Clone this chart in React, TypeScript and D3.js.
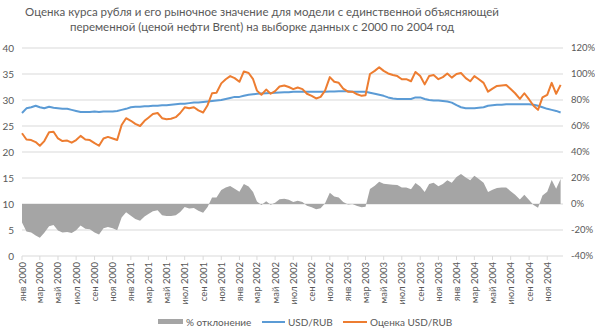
import React from 'react';
import * as d3 from 'd3';

// Semi-monthly observations (1st and 16th of each month), Jan 2000 – Dec 2004
const usdRub = [
  27.5, 28.4, 28.6, 28.9, 28.6, 28.4, 28.7, 28.5, 28.4, 28.3, 28.3, 28.1,
  27.9, 27.7, 27.7, 27.7, 27.8, 27.7, 27.8, 27.8, 27.8, 27.9, 28.1, 28.3,
  28.6, 28.7, 28.7, 28.8, 28.8, 28.9, 28.9, 29.0, 29.0, 29.1, 29.2, 29.3,
  29.3, 29.4, 29.5, 29.5, 29.6, 29.7, 29.8, 29.9, 30.0, 30.2, 30.4, 30.6,
  30.6, 30.8, 31.0, 31.1, 31.2, 31.25, 31.3, 31.35, 31.4, 31.45, 31.5, 31.5,
  31.6, 31.6, 31.6, 31.6, 31.6, 31.6, 31.6, 31.6, 31.65, 31.65, 31.7, 31.7,
  31.7, 31.6, 31.6, 31.6, 31.6, 31.4, 31.2, 31.0, 30.8, 30.5, 30.3, 30.2,
  30.2, 30.2, 30.2, 30.5, 30.5, 30.2, 30.0, 29.9, 29.9, 29.8, 29.7, 29.5,
  29.0, 28.6, 28.4, 28.4, 28.4, 28.5, 28.6, 28.9, 29.0, 29.1, 29.1, 29.2,
  29.2, 29.2, 29.2, 29.2, 29.2, 29.1, 28.9, 28.6, 28.3, 28.1, 27.9, 27.6,
];

const estimate = [
  23.6, 22.4, 22.3, 21.9, 21.2, 22.1, 23.8, 23.9, 22.6, 22.1, 22.2, 21.8,
  22.3, 23.1, 22.4, 22.3, 21.7, 21.2, 22.6, 22.9, 22.6, 22.3, 25.2, 26.5,
  26.0, 25.4, 25.0, 26.0, 26.6, 27.3, 27.5, 26.5, 26.3, 26.4, 26.7, 27.5,
  28.6, 28.4, 28.6, 28.0, 27.6, 29.0, 31.3, 31.4, 33.2, 34.0, 34.6, 34.2,
  33.5, 35.5, 35.2, 34.0, 31.8, 31.0, 32.0, 31.2, 31.7, 32.6, 32.8, 32.5,
  32.1, 32.4, 32.1, 31.2, 30.8, 30.3, 30.6, 31.8, 34.4, 33.5, 33.3, 32.2,
  31.6, 31.6, 31.1, 30.8, 30.9, 35.0, 35.6, 36.3, 35.6, 35.1, 34.8, 34.6,
  34.0, 34.0, 33.6, 35.4, 34.6, 33.0, 34.6, 34.8, 34.0, 34.4, 35.1, 34.3,
  35.0, 35.2, 34.2, 33.6, 34.6, 34.0, 33.3, 31.6, 32.2, 32.7, 32.8, 32.9,
  32.1, 31.3, 30.2, 31.3, 30.1, 28.9, 28.1, 30.5, 31.0, 33.3, 31.2, 32.9,
];

// % deviation
const deviation = [
  -14.2, -21.1, -22.0, -24.2, -25.9, -22.2, -17.1, -16.1, -20.4, -21.9, -21.6, -22.4,
  -20.1, -16.6, -19.1, -19.5, -21.9, -23.5, -18.7, -17.6, -18.7, -20.1, -10.3, -6.4,
  -9.1, -11.5, -12.9, -9.7, -7.6, -5.5, -4.8, -8.6, -9.3, -9.3, -8.6, -6.1,
  -2.4, -3.4, -3.1, -5.1, -6.8, -2.4, 5.0, 5.0, 10.7, 12.6, 13.8, 11.8,
  9.5, 15.3, 13.5, 9.3, 1.9, -0.8, 2.2, -0.5, 1.0, 3.7, 4.1, 3.2,
  1.6, 2.5, 1.6, -1.3, -2.5, -4.1, -3.2, 0.6, 8.7, 5.8, 5.0, 1.6,
  -0.3, 0.0, -1.6, -2.5, -2.2, 11.5, 14.1, 17.1, 15.6, 15.1, 14.9, 14.6,
  12.6, 12.6, 11.3, 16.1, 13.4, 9.3, 15.3, 16.4, 13.7, 15.4, 18.2, 16.3,
  20.7, 23.1, 20.4, 18.3, 21.8, 19.3, 16.4, 9.3, 11.0, 12.4, 12.7, 12.7,
  9.9, 7.2, 3.4, 7.2, 3.1, -0.7, -2.8, 6.6, 9.5, 18.5, 11.8, 19.2,
];

const monthNames = ['янв', 'мар', 'май', 'июл', 'сен', 'ноя'];
const years = [2000, 2001, 2002, 2003, 2004];
const leftTicks = [0, 5, 10, 15, 20, 25, 30, 35, 40];
const rightTicks = [-40, -20, 0, 20, 40, 60, 80, 100, 120];
const titleLines = [
  'Оценка курса рубля и его рыночное значение для модели с единственной объясняющей',
  'переменной (ценой нефти Brent) на выборке данных с 2000 по 2004 год',
];
const seriesNames = ['% отклонение', 'USD/RUB', 'Оценка USD/RUB'];

const COLORS = { area: '#a5a5a5', usd: '#5b9bd5', est: '#ed7d31', text: '#595959', grid: '#d9d9d9' };
const FONT = 'Lato, "Open Sans", sans-serif';

export default function App() {
  const W = 595, H = 329;
  const L = 22, R = 563, T = 48, B = 256;

  const dates = usdRub.map((_, i) => new Date(2000, Math.floor(i / 2), i % 2 === 0 ? 1 : 16));
  const x = d3.scaleTime().domain([new Date(2000, 0, 1), new Date(2004, 11, 24)]).range([L, R]);
  const yL = d3.scaleLinear().domain([0, 40]).range([B, T]);
  const yR = d3.scaleLinear().domain([-40, 120]).range([B, T]);

  const tickDates: { d: Date; label: string }[] = [];
  years.forEach((yr) => monthNames.forEach((mn, k) => tickDates.push({ d: new Date(yr, k * 2, 1), label: `${mn} ${yr}` })));

  const area = d3.area<number>().x((_, i) => x(dates[i])).y0(yR(0)).y1((d) => yR(d));
  const lineL = d3.line<number>().x((_, i) => x(dates[i])).y((d) => yL(d));

  return (
    <svg width={W} height={H} style={{ position: 'absolute', left: 0, top: 0, background: '#fff' }} fontFamily={FONT}>
      <rect width={W} height={H} fill="#fff" />
      {titleLines.map((t, i) => (
        <text key={i} x={262} y={16 + i * 15} textAnchor="middle" fontSize={11.5} fill={COLORS.text}>{t}</text>
      ))}
      {leftTicks.map((v) => (
        <g key={v}>
          {v !== 0 && <line x1={L} x2={R} y1={yL(v)} y2={yL(v)} stroke={COLORS.grid} strokeWidth={1} />}
          <text x={14} y={yL(v)} dy="0.35em" textAnchor="end" fontSize={10} fill={COLORS.text}>{v}</text>
        </g>
      ))}
      {rightTicks.map((v) => (
        <text key={v} x={571} y={yR(v)} dy="0.35em" textAnchor="start" fontSize={9.5} fill={COLORS.text}>{`${v}%`}</text>
      ))}
      <path d={area(deviation) || ''} fill={COLORS.area} />
      <line x1={L} x2={R} y1={B} y2={B} stroke={COLORS.grid} strokeWidth={1} />
      {tickDates.map((t, i) => (
        <g key={i}>
          <line x1={x(t.d)} x2={x(t.d)} y1={B} y2={B + 4} stroke={COLORS.grid} />
          <text transform={`translate(${x(t.d) + 3.5},${262}) rotate(-90)`} textAnchor="end" fontSize={9.5} fill={COLORS.text}>{t.label}</text>
        </g>
      ))}
      <path d={lineL(usdRub) || ''} fill="none" stroke={COLORS.usd} strokeWidth={2} strokeLinejoin="round" />
      <path d={lineL(estimate) || ''} fill="none" stroke={COLORS.est} strokeWidth={2} strokeLinejoin="round" />
      <g fontSize={10} fill={COLORS.text}>
        <rect x={158} y={319} width={25} height={5} fill={COLORS.area} />
        <text x={186} y={322} dy="0.35em">{seriesNames[0]}</text>
        <line x1={262} x2={285} y1={322} y2={322} stroke={COLORS.usd} strokeWidth={2} />
        <text x={288} y={322} dy="0.35em">{seriesNames[1]}</text>
        <line x1={343} x2={367} y1={322} y2={322} stroke={COLORS.est} strokeWidth={2} />
        <text x={370} y={322} dy="0.35em">{seriesNames[2]}</text>
      </g>
    </svg>
  );
}
